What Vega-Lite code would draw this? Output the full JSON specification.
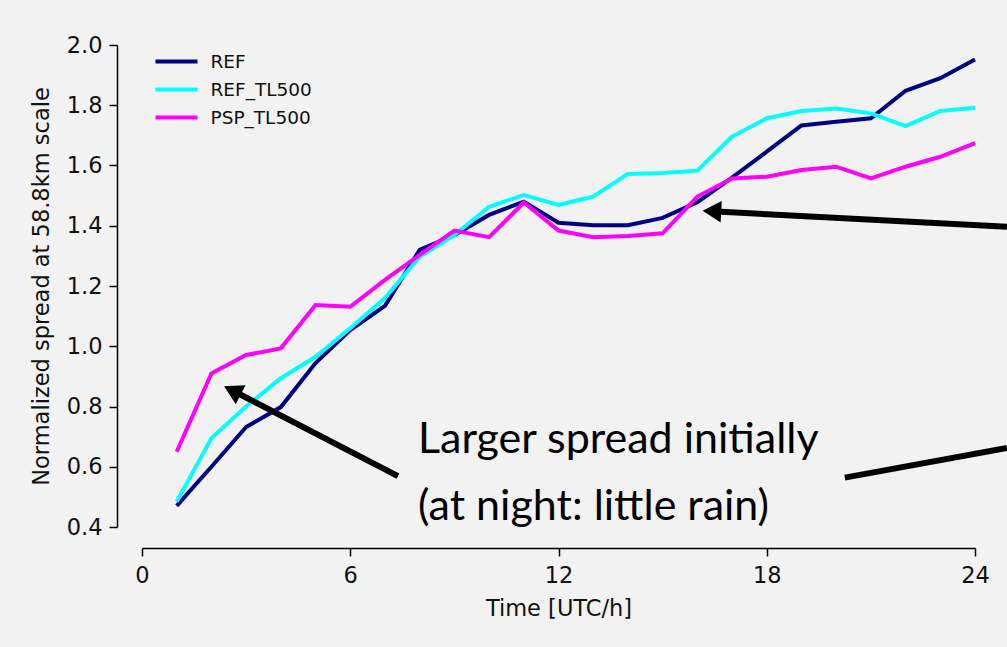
{
  "$schema": "https://vega.github.io/schema/vega-lite/v6.json",
  "width": 833,
  "height": 482,
  "autosize": {"type": "none"},
  "padding": {"left": 142, "top": 45, "right": 32, "bottom": 120},
  "background": "#f2f2f2",
  "config": {
    "view": {"stroke": null},
    "axis": {
      "domainColor": "#000000",
      "domainWidth": 1.5,
      "tickColor": "#000000",
      "tickWidth": 1.5,
      "tickSize": 8,
      "grid": false,
      "labelFont": "DejaVu Sans",
      "labelFontSize": 22.5,
      "labelColor": "#111111",
      "labelFlush": false,
      "titleFont": "DejaVu Sans",
      "titleFontSize": 22.5,
      "titleFontWeight": "normal",
      "titleColor": "#111111"
    }
  },
  "datasets": {
    "series": [
      {"h": 1, "series": "REF", "v": 0.47}, {"h": 2, "series": "REF", "v": 0.6}, {"h": 3, "series": "REF", "v": 0.732}, {"h": 4, "series": "REF", "v": 0.798},
      {"h": 5, "series": "REF", "v": 0.944}, {"h": 6, "series": "REF", "v": 1.054}, {"h": 7, "series": "REF", "v": 1.134}, {"h": 8, "series": "REF", "v": 1.32},
      {"h": 9, "series": "REF", "v": 1.369}, {"h": 10, "series": "REF", "v": 1.436}, {"h": 11, "series": "REF", "v": 1.48}, {"h": 12, "series": "REF", "v": 1.41},
      {"h": 13, "series": "REF", "v": 1.402}, {"h": 14, "series": "REF", "v": 1.402}, {"h": 15, "series": "REF", "v": 1.426}, {"h": 16, "series": "REF", "v": 1.478},
      {"h": 17, "series": "REF", "v": 1.56}, {"h": 18, "series": "REF", "v": 1.646}, {"h": 19, "series": "REF", "v": 1.733}, {"h": 20, "series": "REF", "v": 1.745},
      {"h": 21, "series": "REF", "v": 1.757}, {"h": 22, "series": "REF", "v": 1.848}, {"h": 23, "series": "REF", "v": 1.89}, {"h": 24, "series": "REF", "v": 1.952},
      {"h": 1, "series": "REF_TL500", "v": 0.484}, {"h": 2, "series": "REF_TL500", "v": 0.695}, {"h": 3, "series": "REF_TL500", "v": 0.8}, {"h": 4, "series": "REF_TL500", "v": 0.894},
      {"h": 5, "series": "REF_TL500", "v": 0.965}, {"h": 6, "series": "REF_TL500", "v": 1.06}, {"h": 7, "series": "REF_TL500", "v": 1.16}, {"h": 8, "series": "REF_TL500", "v": 1.297},
      {"h": 9, "series": "REF_TL500", "v": 1.369}, {"h": 10, "series": "REF_TL500", "v": 1.463}, {"h": 11, "series": "REF_TL500", "v": 1.502}, {"h": 12, "series": "REF_TL500", "v": 1.469},
      {"h": 13, "series": "REF_TL500", "v": 1.497}, {"h": 14, "series": "REF_TL500", "v": 1.572}, {"h": 15, "series": "REF_TL500", "v": 1.575}, {"h": 16, "series": "REF_TL500", "v": 1.583},
      {"h": 17, "series": "REF_TL500", "v": 1.696}, {"h": 18, "series": "REF_TL500", "v": 1.757}, {"h": 19, "series": "REF_TL500", "v": 1.781}, {"h": 20, "series": "REF_TL500", "v": 1.789},
      {"h": 21, "series": "REF_TL500", "v": 1.773}, {"h": 22, "series": "REF_TL500", "v": 1.731}, {"h": 23, "series": "REF_TL500", "v": 1.781}, {"h": 24, "series": "REF_TL500", "v": 1.792},
      {"h": 1, "series": "PSP_TL500", "v": 0.65}, {"h": 2, "series": "PSP_TL500", "v": 0.91}, {"h": 3, "series": "PSP_TL500", "v": 0.971}, {"h": 4, "series": "PSP_TL500", "v": 0.993},
      {"h": 5, "series": "PSP_TL500", "v": 1.137}, {"h": 6, "series": "PSP_TL500", "v": 1.131}, {"h": 7, "series": "PSP_TL500", "v": 1.22}, {"h": 8, "series": "PSP_TL500", "v": 1.303},
      {"h": 9, "series": "PSP_TL500", "v": 1.384}, {"h": 10, "series": "PSP_TL500", "v": 1.362}, {"h": 11, "series": "PSP_TL500", "v": 1.477}, {"h": 12, "series": "PSP_TL500", "v": 1.384},
      {"h": 13, "series": "PSP_TL500", "v": 1.362}, {"h": 14, "series": "PSP_TL500", "v": 1.366}, {"h": 15, "series": "PSP_TL500", "v": 1.375}, {"h": 16, "series": "PSP_TL500", "v": 1.497},
      {"h": 17, "series": "PSP_TL500", "v": 1.557}, {"h": 18, "series": "PSP_TL500", "v": 1.563}, {"h": 19, "series": "PSP_TL500", "v": 1.585}, {"h": 20, "series": "PSP_TL500", "v": 1.596},
      {"h": 21, "series": "PSP_TL500", "v": 1.557}, {"h": 22, "series": "PSP_TL500", "v": 1.596}, {"h": 23, "series": "PSP_TL500", "v": 1.629}, {"h": 24, "series": "PSP_TL500", "v": 1.674}
    ],
    "arrows": [
      {"id": "a1", "x": 7.375, "y": 0.569, "x2": 2.604, "y2": 0.853},
      {"id": "a2", "x": 24.92, "y": 1.397, "x2": 16.42, "y2": 1.448},
      {"id": "a3", "x": 20.25, "y": 0.564, "x2": 24.92, "y2": 0.662}
    ],
    "notes": [
      {"x": 7.95, "y": 0.646, "label": "Larger spread initially"},
      {"x": 7.95, "y": 0.423, "label": "(at night: little rain)"}
    ]
  },
  "layer": [
    {
      "data": {"name": "series"},
      "mark": {"type": "line", "strokeWidth": 4, "clip": false},
      "encoding": {
        "x": {
          "field": "h", "type": "quantitative",
          "scale": {"domain": [0, 24], "nice": false, "zero": false},
          "axis": {"values": [0, 6, 12, 18, 24], "offset": 21, "title": "Time [UTC/h]", "titlePadding": 11, "labelPadding": 8}
        },
        "y": {
          "field": "v", "type": "quantitative",
          "scale": {"domain": [0.4, 2.0], "nice": false, "zero": false},
          "axis": {"values": [0.4, 0.6, 0.8, 1.0, 1.2, 1.4, 1.6, 1.8, 2.0], "format": ".1f", "offset": 25, "title": "Normalized spread at 58.8km scale", "titlePadding": 13, "labelPadding": 7}
        },
        "color": {
          "field": "series", "type": "nominal",
          "scale": {"domain": ["REF", "REF_TL500", "PSP_TL500"], "range": ["#000080", "#00ffff", "#ff00ff"]},
          "legend": {
            "title": null, "orient": "none", "legendX": 22, "legendY": 4,
            "symbolType": "M-2,0L2,0", "symbolSize": 441, "symbolStrokeWidth": 4,
            "labelFont": "DejaVu Sans", "labelFontSize": 18.5, "labelColor": "#111111",
            "labelOffset": 21.5, "rowPadding": 6, "padding": 0
          }
        },
        "detail": {"field": "series"}
      }
    },
    {
      "data": {"name": "arrows"},
      "mark": {"type": "rule", "strokeWidth": 6, "color": "#000000", "clip": false},
      "encoding": {
        "x": {"field": "x", "type": "quantitative"},
        "y": {"field": "y", "type": "quantitative"},
        "x2": {"field": "x2"},
        "y2": {"field": "y2"}
      }
    },
    {
      "data": {"name": "arrows"},
      "transform": [{"filter": "datum.id === 'a1'"}],
      "mark": {"type": "point", "shape": "triangle-up", "filled": true, "size": 460, "angle": 297, "color": "#000000", "opacity": 1, "clip": false},
      "encoding": {
        "x": {"field": "x2", "type": "quantitative"},
        "y": {"field": "y2", "type": "quantitative"}
      }
    },
    {
      "data": {"name": "arrows"},
      "transform": [{"filter": "datum.id === 'a2'"}],
      "mark": {"type": "point", "shape": "triangle-up", "filled": true, "size": 460, "angle": 273, "color": "#000000", "opacity": 1, "clip": false},
      "encoding": {
        "x": {"field": "x2", "type": "quantitative"},
        "y": {"field": "y2", "type": "quantitative"}
      }
    },
    {
      "data": {"name": "notes"},
      "mark": {"type": "text", "font": "Lato", "fontSize": 43, "align": "left", "baseline": "alphabetic", "color": "#000000"},
      "encoding": {
        "x": {"field": "x", "type": "quantitative"},
        "y": {"field": "y", "type": "quantitative"},
        "text": {"field": "label"}
      }
    }
  ]
}
